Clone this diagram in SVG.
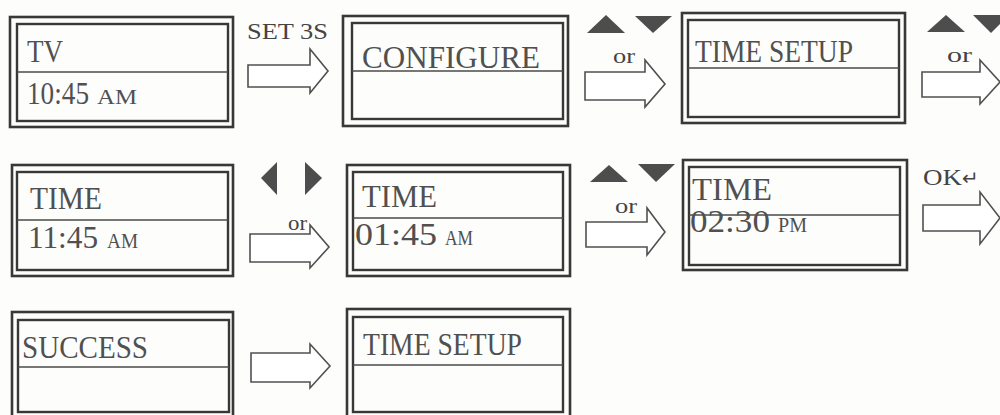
<svg xmlns="http://www.w3.org/2000/svg" width="1000" height="415" viewBox="0 0 1000 415">
<style>
.bg{fill:#fdfdfc}
.outer{fill:none;stroke:#383838;stroke-width:2.6}
.inner{fill:none;stroke:#383838;stroke-width:2.4}
.div{stroke:#4a4a4a;stroke-width:1.6}
.txt{font-family:"Liberation Serif","Times New Roman",serif;font-size:31px;fill:#505050}
.sm{font-family:"Liberation Serif","Times New Roman",serif;font-size:20px;fill:#505050}
.lbl{font-family:"Liberation Serif","Times New Roman",serif;font-size:23px;fill:#444}
.or{font-family:"Liberation Serif","Times New Roman",serif;font-size:22px;fill:#444}
.arrow{fill:#fff;stroke:#505050;stroke-width:1.6;stroke-linejoin:miter}
.tri{fill:#4d4d4d}
</style>
<rect class="bg" x="0" y="0" width="1000" height="415"/>

<g id="node-tv">
<rect class="outer" x="10" y="17" width="223" height="110"/>
<rect class="inner" x="17" y="24" width="211" height="97"/>
<line class="div" x1="17" y1="72" x2="228" y2="72"/>
<text class="txt" x="27" y="62" textLength="36" lengthAdjust="spacingAndGlyphs">TV</text>
<text class="txt" x="27" y="104" textLength="62" lengthAdjust="spacingAndGlyphs">10:45</text>
<text class="sm" x="97" y="104" textLength="40" lengthAdjust="spacingAndGlyphs">AM</text>
</g>

<g id="node-configure">
<rect class="outer" x="343" y="16" width="225" height="110"/>
<rect class="inner" x="352" y="23" width="211" height="96"/>
<line class="div" x1="352" y1="71" x2="563" y2="71"/>
<text class="txt" x="362" y="68" textLength="178" lengthAdjust="spacingAndGlyphs">CONFIGURE</text>
</g>

<g id="node-timesetup1">
<rect class="outer" x="682" y="13" width="223" height="110"/>
<rect class="inner" x="688" y="20" width="211" height="97"/>
<line class="div" x1="688" y1="68" x2="899" y2="68"/>
<text class="txt" x="695" y="62" textLength="158" lengthAdjust="spacingAndGlyphs">TIME SETUP</text>
</g>

<g id="node-time1145">
<rect class="outer" x="12" y="165" width="221" height="111"/>
<rect class="inner" x="17" y="172" width="211" height="98"/>
<line class="div" x1="17" y1="220" x2="228" y2="220"/>
<text class="txt" x="30" y="209" textLength="72" lengthAdjust="spacingAndGlyphs">TIME</text>
<text class="txt" x="28" y="248" textLength="70" lengthAdjust="spacingAndGlyphs">11:45</text>
<text class="sm" x="107" y="248" textLength="31" lengthAdjust="spacingAndGlyphs">AM</text>
</g>

<g id="node-time0145">
<rect class="outer" x="347" y="165" width="223" height="111"/>
<rect class="inner" x="353" y="172" width="210" height="98"/>
<line class="div" x1="353" y1="218" x2="563" y2="218"/>
<text class="txt" x="362" y="207" textLength="75" lengthAdjust="spacingAndGlyphs">TIME</text>
<text class="txt" x="355" y="245" textLength="82" lengthAdjust="spacingAndGlyphs">01:45</text>
<text class="sm" x="445" y="245" textLength="28" lengthAdjust="spacingAndGlyphs">AM</text>
</g>

<g id="node-time0230">
<rect class="outer" x="683" y="160" width="224" height="110"/>
<rect class="inner" x="689" y="167" width="211" height="98"/>
<line class="div" x1="689" y1="215" x2="900" y2="215"/>
<text class="txt" x="692" y="200" textLength="80" lengthAdjust="spacingAndGlyphs">TIME</text>
<text class="txt" x="690" y="232" textLength="80" lengthAdjust="spacingAndGlyphs">02:30</text>
<text class="sm" x="778" y="232" textLength="29" lengthAdjust="spacingAndGlyphs">PM</text>
</g>

<g id="node-success">
<rect class="outer" x="12" y="312" width="221" height="110"/>
<rect class="inner" x="18" y="320" width="211" height="92"/>
<line class="div" x1="18" y1="367" x2="229" y2="367"/>
<text class="txt" x="22" y="358" textLength="126" lengthAdjust="spacingAndGlyphs">SUCCESS</text>
</g>

<g id="node-timesetup2">
<rect class="outer" x="347" y="309" width="223" height="113"/>
<rect class="inner" x="353" y="317" width="210" height="95"/>
<line class="div" x1="353" y1="365" x2="563" y2="365"/>
<text class="txt" x="363" y="355" textLength="159" lengthAdjust="spacingAndGlyphs">TIME SETUP</text>
</g>

<g id="connectors">
<polygon class="arrow" points="248,65 310,65 310,49 328,71 310,93 310,87 248,87"/>
<text class="lbl" x="247" y="39" textLength="81" lengthAdjust="spacingAndGlyphs">SET 3S</text>

<polygon class="arrow" points="585,72 645,72 645,60 665,84 645,107 645,100 585,100"/>
<polygon class="tri" points="587,33 625,33 606,15"/>
<polygon class="tri" points="635,16 672,16 653,33"/>
<text class="or" x="613" y="63" textLength="22" lengthAdjust="spacingAndGlyphs">or</text>

<polygon class="arrow" points="922,72 980,72 980,60 1000,82 980,104 980,97 922,97"/>
<polygon class="tri" points="927,32 965,32 946,15"/>
<polygon class="tri" points="973,15 1009,15 991,33"/>
<text class="or" x="947" y="62" textLength="25" lengthAdjust="spacingAndGlyphs">or</text>

<polygon class="arrow" points="250,234 310,234 310,225 329,247 310,268 310,262 250,262"/>
<polygon class="tri" points="277,162 277,195 261,178"/>
<polygon class="tri" points="305,162 305,195 322,178"/>
<text class="or" x="288" y="230" textLength="19" lengthAdjust="spacingAndGlyphs">or</text>

<polygon class="arrow" points="586,222 647,222 647,208 665,232 647,255 647,247 586,247"/>
<polygon class="tri" points="590,182 628,182 609,165"/>
<polygon class="tri" points="638,164 675,164 656,182"/>
<text class="or" x="615" y="213" textLength="22" lengthAdjust="spacingAndGlyphs">or</text>

<polygon class="arrow" points="923,205 980,205 980,192 1000,218 980,244 980,231 923,231"/>
<text class="lbl" x="923" y="185" font-size="25" textLength="39" lengthAdjust="spacingAndGlyphs">OK</text>
<text x="962" y="185" font-family="'DejaVu Sans',sans-serif" font-size="20" fill="#444">↵</text>

<polygon class="arrow" points="251,353 310,353 310,344 330,366 310,388 310,382 251,382"/>
</g>
</svg>
